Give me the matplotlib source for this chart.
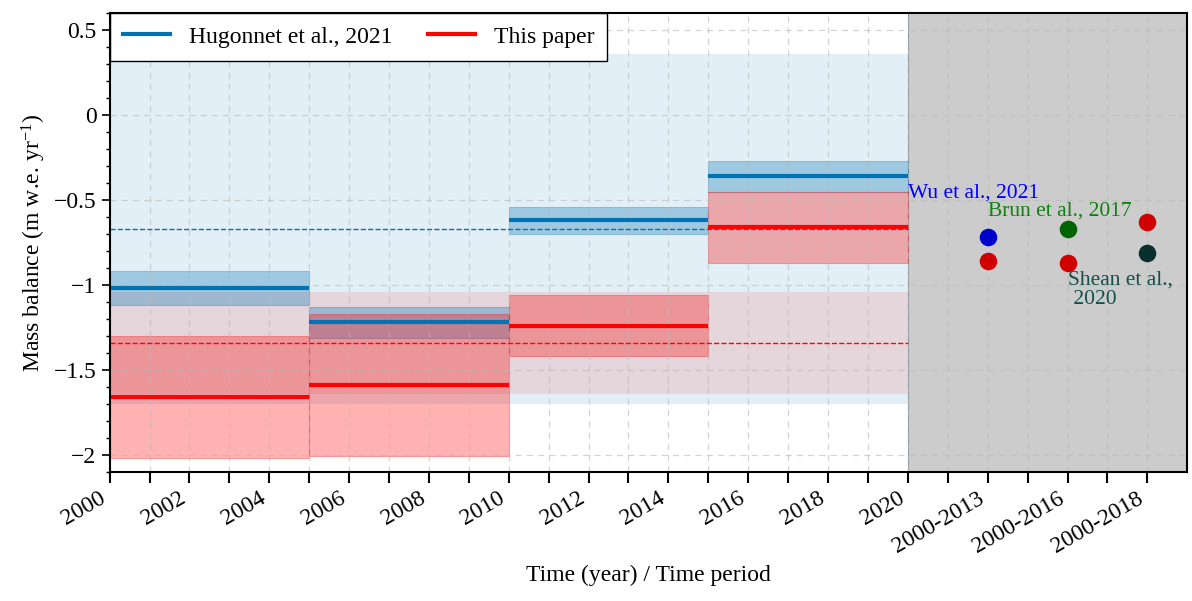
import matplotlib
matplotlib.use("Agg")
import matplotlib.pyplot as plt
from matplotlib.ticker import MultipleLocator, FuncFormatter

# ==============================================================
# DATA
# ==============================================================

period_start = [2000, 2005, 2010, 2015]
period_end = [2005, 2010, 2015, 2020]

hug_mean = [-1.02, -1.22, -0.62, -0.36]
hug_err = [0.10, 0.09, 0.08, 0.09]
ours_mean = [-1.66, -1.59, -1.24, -0.66]
ours_err = [0.36, 0.42, 0.18, 0.21]

hug_total, hug_total_err = -0.67, 1.03
ours_total, ours_total_err = -1.34, 0.30

study_x = [2022, 2024, 2026]
study_periods = ["2000-2013", "2000-2016", "2000-2018"]
study_vals = [-0.72, -0.67, -0.81]
study_ours = [-0.86, -0.87, -0.63]
study_names = ["Wu et al., 2021", "Brun et al., 2017", "Shean et al.,\n 2020"]
study_colors = ["#0000cc", "#006400", "#0b2f2c"]
study_text_colors = ["#0000ff", "#108010", "#12504a"]

year_ticks = list(range(2000, 2027))

# ==============================================================
# STYLE
# ==============================================================

plt.rcParams["font.family"] = ["Liberation Serif", "DejaVu Serif"]
plt.rcParams["font.size"] = 17
plt.rcParams["mathtext.fontset"] = "custom"
plt.rcParams["mathtext.rm"] = "Liberation Serif"
plt.rcParams["mathtext.it"] = "Liberation Serif:italic"

BLUE = "#0173b2"
RED = "#ff0000"

fig, ax = plt.subplots(figsize=(11.92, 6.01), dpi=100)
fig.subplots_adjust(left=0.092, right=0.996, top=0.978, bottom=0.215)

# overall 2000-2020 bands
ax.fill_between([2000, 2020], hug_total - hug_total_err, hug_total + hug_total_err,
                color=BLUE, alpha=0.11, lw=0, zorder=1)
ax.fill_between([2000, 2020], ours_total - ours_total_err, ours_total + ours_total_err,
                color=RED, alpha=0.10, lw=0, zorder=1.1)
ax.plot([2000, 2020], [hug_total] * 2, "--", color=BLUE, lw=1, zorder=4)
ax.plot([2000, 2020], [ours_total] * 2, "--", color=RED, lw=1, zorder=4)

# period blocks
for s, e, m, er in zip(period_start, period_end, hug_mean, hug_err):
    ax.fill_between([s, e], m - er, m + er, facecolor=BLUE, alpha=0.3,
                    edgecolor=BLUE, lw=0.8, zorder=2)
for s, e, m, er in zip(period_start, period_end, ours_mean, ours_err):
    ax.fill_between([s, e], m - er, m + er, facecolor=RED, alpha=0.3,
                    edgecolor=RED, lw=0.8, zorder=2.1)
for s, e, m in zip(period_start, period_end, hug_mean):
    ax.plot([s, e], [m, m], color=BLUE, lw=3, solid_capstyle="butt", zorder=5)
for s, e, m in zip(period_start, period_end, ours_mean):
    ax.plot([s, e], [m, m], color=RED, lw=3, solid_capstyle="butt", zorder=5)

# other studies region
ax.axvspan(2020, 2027, color="gray", alpha=0.4, lw=0, zorder=1)
ax.axvline(2020, color="#8a9a9e", lw=0.8, zorder=1.5)
for x, v, c in zip(study_x, study_vals, study_colors):
    ax.scatter(x, v, s=160, color=c, zorder=6, lw=0)
for x, v in zip(study_x, study_ours):
    ax.scatter(x, v, s=160, color="#d00000", zorder=6, lw=0)

ax.text(2020, -0.46, study_names[0], color=study_text_colors[0], fontsize=15.5,
        ha="left", va="center")
ax.text(2022, -0.565, study_names[1], color=study_text_colors[1], fontsize=15.5,
        ha="left", va="center")
ax.text(2024, -0.915, study_names[2], color=study_text_colors[2], fontsize=15.5,
        ha="left", va="top", linespacing=1.0)

# legend handles
ax.plot([], [], color=BLUE, lw=3, label="Hugonnet et al., 2021")
ax.plot([], [], color=RED, lw=3, label="This paper")
leg = ax.legend(loc="upper left", ncol=2, fontsize=17, frameon=True, fancybox=False,
                edgecolor="black", framealpha=1, borderaxespad=0, columnspacing=1.5,
                handlelength=2.0, borderpad=0.55)
leg.get_frame().set_linewidth(1.0)
leg.set_zorder(10)

# axes
ax.set_xlim(2000, 2027)
ax.set_ylim(-2.1, 0.6)
ax.set_xticks(year_ticks)
labels = []
for y in year_ticks:
    if y <= 2020:
        labels.append(str(y) if y % 2 == 0 else "")
    elif y in study_x:
        labels.append(study_periods[study_x.index(y)])
    else:
        labels.append("")
ax.set_xticklabels(labels, rotation=30, ha="right", fontsize=17)
ax.yaxis.set_major_locator(MultipleLocator(0.5))
ax.yaxis.set_minor_locator(MultipleLocator(0.1))
ax.yaxis.set_major_formatter(FuncFormatter(lambda v, p: ("%g" % v).replace("-", "\u2212")))
ax.tick_params(axis="y", labelsize=17, length=6, width=1.2)
ax.tick_params(axis="y", which="minor", length=3, width=1)
ax.tick_params(axis="x", length=8, width=1.5)

ax.grid(True, which="major", linestyle=(0, (5, 4)), color="#b8b8b8", alpha=0.6, lw=0.9, zorder=3)
ax.set_axisbelow(False)
for sp in ax.spines.values():
    sp.set_linewidth(1.5)
    sp.set_zorder(11)

ax.set_ylabel("Mass balance (m w.e. yr$^{-1}$)", fontsize=17)
ax.set_xlabel("Time (year) / Time period", fontsize=17, labelpad=6)

plt.savefig("out.png", dpi=100)
